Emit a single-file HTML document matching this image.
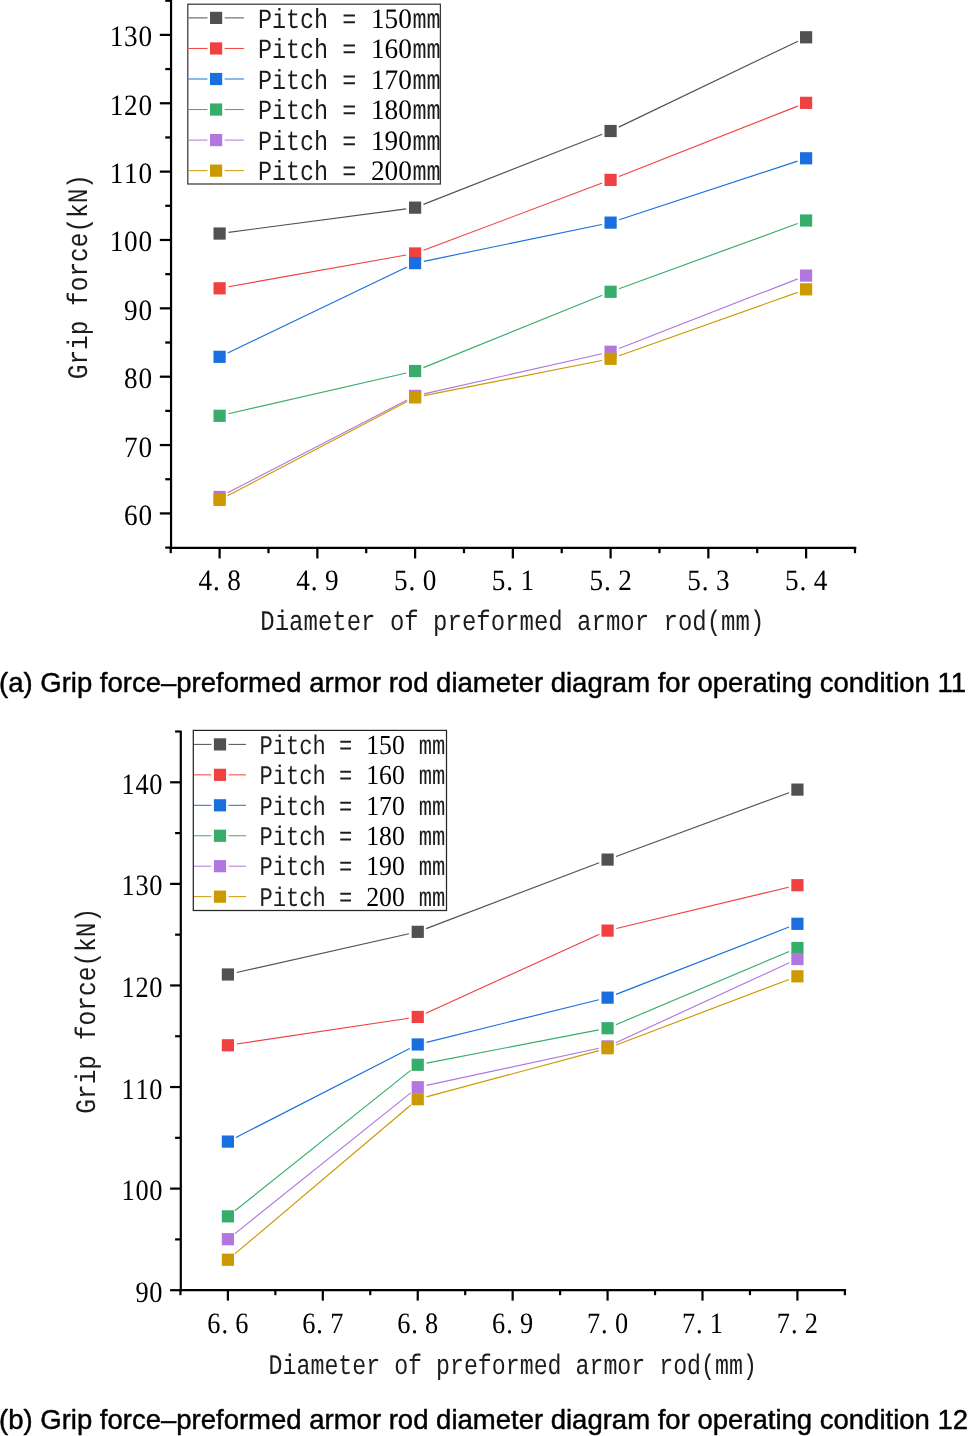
<!DOCTYPE html>
<html lang="en">
<head>
<meta charset="utf-8">
<title>Grip force - preformed armor rod diameter diagrams</title>
<style>
html,body{margin:0;padding:0;background:#fff;}
body{width:969px;height:1436px;overflow:hidden;}
svg{display:block;}
.s{font-family:"Liberation Serif","Noto Serif CJK SC",serif;fill:#000;text-rendering:geometricPrecision;}
.m{font-family:"Liberation Mono","Noto Sans CJK SC",monospace;fill:#1c1c1c;text-rendering:geometricPrecision;}
.c{font-family:"Liberation Sans","Noto Sans CJK SC",sans-serif;fill:#000;}
</style>
</head>
<body>
<svg width="969" height="1436" viewBox="0 0 969 1436">
<rect width="969" height="1436" fill="#fff"/>
<g id="chart-a">
<g>
<line x1="228.52" y1="232.37" x2="406.18" y2="208.83" stroke="#515151" stroke-width="1.15"/>
<line x1="423.48" y1="204.36" x2="602.22" y2="134.30" stroke="#515151" stroke-width="1.15"/>
<line x1="618.72" y1="127.12" x2="797.98" y2="41.18" stroke="#515151" stroke-width="1.15"/>
<rect x="213.50" y="227.45" width="12.20" height="12.20" fill="#515151"/>
<rect x="409.00" y="201.55" width="12.20" height="12.20" fill="#515151"/>
<rect x="604.50" y="124.91" width="12.20" height="12.20" fill="#515151"/>
<rect x="800.00" y="31.19" width="12.20" height="12.20" fill="#515151"/>
</g>
<g>
<line x1="228.46" y1="286.73" x2="406.24" y2="255.03" stroke="#F14040" stroke-width="1.15"/>
<line x1="423.52" y1="250.28" x2="602.18" y2="183.06" stroke="#F14040" stroke-width="1.15"/>
<line x1="618.97" y1="176.59" x2="797.73" y2="106.15" stroke="#F14040" stroke-width="1.15"/>
<rect x="213.50" y="282.21" width="12.20" height="12.20" fill="#F14040"/>
<rect x="409.00" y="247.35" width="12.20" height="12.20" fill="#F14040"/>
<rect x="604.50" y="173.79" width="12.20" height="12.20" fill="#F14040"/>
<rect x="800.00" y="96.75" width="12.20" height="12.20" fill="#F14040"/>
</g>
<g>
<line x1="227.72" y1="352.92" x2="406.98" y2="267.04" stroke="#1A6FDF" stroke-width="1.15"/>
<line x1="423.91" y1="261.33" x2="601.79" y2="224.44" stroke="#1A6FDF" stroke-width="1.15"/>
<line x1="619.15" y1="219.80" x2="797.55" y2="161.10" stroke="#1A6FDF" stroke-width="1.15"/>
<rect x="213.50" y="350.71" width="12.20" height="12.20" fill="#1A6FDF"/>
<rect x="409.00" y="257.05" width="12.20" height="12.20" fill="#1A6FDF"/>
<rect x="604.50" y="216.52" width="12.20" height="12.20" fill="#1A6FDF"/>
<rect x="800.00" y="152.19" width="12.20" height="12.20" fill="#1A6FDF"/>
</g>
<g>
<line x1="228.37" y1="413.79" x2="406.33" y2="373.04" stroke="#37AD6B" stroke-width="1.15"/>
<line x1="423.44" y1="367.65" x2="602.26" y2="295.18" stroke="#37AD6B" stroke-width="1.15"/>
<line x1="619.06" y1="288.71" x2="797.64" y2="223.58" stroke="#37AD6B" stroke-width="1.15"/>
<rect x="213.50" y="409.70" width="12.20" height="12.20" fill="#37AD6B"/>
<rect x="409.00" y="364.93" width="12.20" height="12.20" fill="#37AD6B"/>
<rect x="604.50" y="285.70" width="12.20" height="12.20" fill="#37AD6B"/>
<rect x="800.00" y="214.40" width="12.20" height="12.20" fill="#37AD6B"/>
</g>
<g>
<line x1="227.60" y1="492.81" x2="407.10" y2="400.04" stroke="#B177DE" stroke-width="1.15"/>
<line x1="423.88" y1="393.93" x2="601.82" y2="353.73" stroke="#B177DE" stroke-width="1.15"/>
<line x1="618.99" y1="348.48" x2="797.71" y2="278.86" stroke="#B177DE" stroke-width="1.15"/>
<rect x="213.50" y="490.85" width="12.20" height="12.20" fill="#B177DE"/>
<rect x="409.00" y="389.81" width="12.20" height="12.20" fill="#B177DE"/>
<rect x="604.50" y="345.65" width="12.20" height="12.20" fill="#B177DE"/>
<rect x="800.00" y="269.50" width="12.20" height="12.20" fill="#B177DE"/>
</g>
<g>
<line x1="227.57" y1="495.77" x2="407.13" y2="401.59" stroke="#CC9900" stroke-width="1.15"/>
<line x1="423.93" y1="395.67" x2="601.77" y2="360.53" stroke="#CC9900" stroke-width="1.15"/>
<line x1="619.08" y1="355.78" x2="797.62" y2="292.35" stroke="#CC9900" stroke-width="1.15"/>
<rect x="213.50" y="493.85" width="12.20" height="12.20" fill="#CC9900"/>
<rect x="409.00" y="391.31" width="12.20" height="12.20" fill="#CC9900"/>
<rect x="604.50" y="352.69" width="12.20" height="12.20" fill="#CC9900"/>
<rect x="800.00" y="283.24" width="12.20" height="12.20" fill="#CC9900"/>
</g>
<line x1="171.05" y1="-2.00" x2="171.05" y2="548.90" stroke="#000" stroke-width="2.20"/>
<line x1="169.95" y1="547.80" x2="856.30" y2="547.80" stroke="#000" stroke-width="2.20"/>
<line x1="159.85" y1="513.42" x2="171.05" y2="513.42" stroke="#000" stroke-width="2.25"/>
<line x1="159.85" y1="445.06" x2="171.05" y2="445.06" stroke="#000" stroke-width="2.25"/>
<line x1="159.85" y1="376.70" x2="171.05" y2="376.70" stroke="#000" stroke-width="2.25"/>
<line x1="159.85" y1="308.34" x2="171.05" y2="308.34" stroke="#000" stroke-width="2.25"/>
<line x1="159.85" y1="239.98" x2="171.05" y2="239.98" stroke="#000" stroke-width="2.25"/>
<line x1="159.85" y1="171.62" x2="171.05" y2="171.62" stroke="#000" stroke-width="2.25"/>
<line x1="159.85" y1="103.26" x2="171.05" y2="103.26" stroke="#000" stroke-width="2.25"/>
<line x1="159.85" y1="34.90" x2="171.05" y2="34.90" stroke="#000" stroke-width="2.25"/>
<line x1="165.25" y1="547.60" x2="171.05" y2="547.60" stroke="#000" stroke-width="2.25"/>
<line x1="165.25" y1="479.24" x2="171.05" y2="479.24" stroke="#000" stroke-width="2.25"/>
<line x1="165.25" y1="410.88" x2="171.05" y2="410.88" stroke="#000" stroke-width="2.25"/>
<line x1="165.25" y1="342.52" x2="171.05" y2="342.52" stroke="#000" stroke-width="2.25"/>
<line x1="165.25" y1="274.16" x2="171.05" y2="274.16" stroke="#000" stroke-width="2.25"/>
<line x1="165.25" y1="205.80" x2="171.05" y2="205.80" stroke="#000" stroke-width="2.25"/>
<line x1="165.25" y1="137.44" x2="171.05" y2="137.44" stroke="#000" stroke-width="2.25"/>
<line x1="165.25" y1="69.08" x2="171.05" y2="69.08" stroke="#000" stroke-width="2.25"/>
<line x1="165.25" y1="0.72" x2="171.05" y2="0.72" stroke="#000" stroke-width="2.25"/>
<line x1="219.60" y1="547.80" x2="219.60" y2="558.40" stroke="#000" stroke-width="2.25"/>
<line x1="317.35" y1="547.80" x2="317.35" y2="558.40" stroke="#000" stroke-width="2.25"/>
<line x1="415.10" y1="547.80" x2="415.10" y2="558.40" stroke="#000" stroke-width="2.25"/>
<line x1="512.85" y1="547.80" x2="512.85" y2="558.40" stroke="#000" stroke-width="2.25"/>
<line x1="610.60" y1="547.80" x2="610.60" y2="558.40" stroke="#000" stroke-width="2.25"/>
<line x1="708.35" y1="547.80" x2="708.35" y2="558.40" stroke="#000" stroke-width="2.25"/>
<line x1="806.10" y1="547.80" x2="806.10" y2="558.40" stroke="#000" stroke-width="2.25"/>
<line x1="170.73" y1="547.80" x2="170.73" y2="553.20" stroke="#000" stroke-width="2.25"/>
<line x1="268.47" y1="547.80" x2="268.47" y2="553.20" stroke="#000" stroke-width="2.25"/>
<line x1="366.23" y1="547.80" x2="366.23" y2="553.20" stroke="#000" stroke-width="2.25"/>
<line x1="463.98" y1="547.80" x2="463.98" y2="553.20" stroke="#000" stroke-width="2.25"/>
<line x1="561.73" y1="547.80" x2="561.73" y2="553.20" stroke="#000" stroke-width="2.25"/>
<line x1="659.48" y1="547.80" x2="659.48" y2="553.20" stroke="#000" stroke-width="2.25"/>
<line x1="757.22" y1="547.80" x2="757.22" y2="553.20" stroke="#000" stroke-width="2.25"/>
<line x1="854.98" y1="547.80" x2="854.98" y2="553.20" stroke="#000" stroke-width="2.25"/>
<text class="s" font-size="29.60" text-anchor="middle" transform="scale(0.9200 1)" x="142.28 157.93" y="524.92">60</text>
<text class="s" font-size="29.60" text-anchor="middle" transform="scale(0.9200 1)" x="142.28 157.93" y="456.56">70</text>
<text class="s" font-size="29.60" text-anchor="middle" transform="scale(0.9200 1)" x="142.28 157.93" y="388.20">80</text>
<text class="s" font-size="29.60" text-anchor="middle" transform="scale(0.9200 1)" x="142.28 157.93" y="319.84">90</text>
<text class="s" font-size="29.60" text-anchor="middle" transform="scale(0.9200 1)" x="126.63 142.28 157.93" y="251.48">100</text>
<text class="s" font-size="29.60" text-anchor="middle" transform="scale(0.9200 1)" x="126.63 142.28 157.93" y="183.12">110</text>
<text class="s" font-size="29.60" text-anchor="middle" transform="scale(0.9200 1)" x="126.63 142.28 157.93" y="114.76">120</text>
<text class="s" font-size="29.60" text-anchor="middle" transform="scale(0.9200 1)" x="126.63 142.28 157.93" y="46.40">130</text>
<text class="s" font-size="29.60" text-anchor="middle" transform="scale(0.9200 1)" x="223.04 235.10 254.35" y="590.20">4.8</text>
<text class="s" font-size="29.60" text-anchor="middle" transform="scale(0.9200 1)" x="329.29 341.35 360.60" y="590.20">4.9</text>
<text class="s" font-size="29.60" text-anchor="middle" transform="scale(0.9200 1)" x="435.54 447.60 466.85" y="590.20">5.0</text>
<text class="s" font-size="29.60" text-anchor="middle" transform="scale(0.9200 1)" x="541.79 553.85 573.10" y="590.20">5.1</text>
<text class="s" font-size="29.60" text-anchor="middle" transform="scale(0.9200 1)" x="648.04 660.10 679.35" y="590.20">5.2</text>
<text class="s" font-size="29.60" text-anchor="middle" transform="scale(0.9200 1)" x="754.29 766.35 785.60" y="590.20">5.3</text>
<text class="s" font-size="29.60" text-anchor="middle" transform="scale(0.9200 1)" x="860.54 872.60 891.85" y="590.20">5.4</text>
<text class="m" font-size="28.30" x="260.30" y="629.70" textLength="504.00" lengthAdjust="spacingAndGlyphs">Diameter of preformed armor rod(mm)</text>
<text class="m" font-size="28.30" x="87.10" y="379.20" textLength="205.24" lengthAdjust="spacingAndGlyphs" transform="rotate(-90 87.10 379.20)">Grip force(kN)</text>
<rect x="187.80" y="4.20" width="252.60" height="179.80" fill="#fff" stroke="#3a3a3a" stroke-width="1.25"/>
<line x1="188.40" y1="17.90" x2="207.50" y2="17.90" stroke="#515151" stroke-width="1.00"/>
<line x1="224.70" y1="17.90" x2="243.90" y2="17.90" stroke="#515151" stroke-width="1.00"/>
<rect x="210.00" y="11.80" width="12.20" height="12.20" fill="#515151"/>
<text font-size="27.70" y="27.60"><tspan class="m" x="257.90" textLength="98.35" lengthAdjust="spacingAndGlyphs">Pitch =</tspan> <tspan class="s" font-size="28.20" x="370.90" textLength="40.95" lengthAdjust="spacingAndGlyphs">150</tspan><tspan class="m" x="412.45" textLength="28.10" lengthAdjust="spacingAndGlyphs">mm</tspan></text>
<line x1="188.40" y1="48.45" x2="207.50" y2="48.45" stroke="#F14040" stroke-width="1.00"/>
<line x1="224.70" y1="48.45" x2="243.90" y2="48.45" stroke="#F14040" stroke-width="1.00"/>
<rect x="210.00" y="42.35" width="12.20" height="12.20" fill="#F14040"/>
<text font-size="27.70" y="58.10"><tspan class="m" x="257.90" textLength="98.35" lengthAdjust="spacingAndGlyphs">Pitch =</tspan> <tspan class="s" font-size="28.20" x="370.90" textLength="40.95" lengthAdjust="spacingAndGlyphs">160</tspan><tspan class="m" x="412.45" textLength="28.10" lengthAdjust="spacingAndGlyphs">mm</tspan></text>
<line x1="188.40" y1="79.00" x2="207.50" y2="79.00" stroke="#1A6FDF" stroke-width="1.00"/>
<line x1="224.70" y1="79.00" x2="243.90" y2="79.00" stroke="#1A6FDF" stroke-width="1.00"/>
<rect x="210.00" y="72.90" width="12.20" height="12.20" fill="#1A6FDF"/>
<text font-size="27.70" y="88.60"><tspan class="m" x="257.90" textLength="98.35" lengthAdjust="spacingAndGlyphs">Pitch =</tspan> <tspan class="s" font-size="28.20" x="370.90" textLength="40.95" lengthAdjust="spacingAndGlyphs">170</tspan><tspan class="m" x="412.45" textLength="28.10" lengthAdjust="spacingAndGlyphs">mm</tspan></text>
<line x1="188.40" y1="109.55" x2="207.50" y2="109.55" stroke="#37AD6B" stroke-width="1.00"/>
<line x1="224.70" y1="109.55" x2="243.90" y2="109.55" stroke="#37AD6B" stroke-width="1.00"/>
<rect x="210.00" y="103.45" width="12.20" height="12.20" fill="#37AD6B"/>
<text font-size="27.70" y="119.10"><tspan class="m" x="257.90" textLength="98.35" lengthAdjust="spacingAndGlyphs">Pitch =</tspan> <tspan class="s" font-size="28.20" x="370.90" textLength="40.95" lengthAdjust="spacingAndGlyphs">180</tspan><tspan class="m" x="412.45" textLength="28.10" lengthAdjust="spacingAndGlyphs">mm</tspan></text>
<line x1="188.40" y1="140.10" x2="207.50" y2="140.10" stroke="#B177DE" stroke-width="1.00"/>
<line x1="224.70" y1="140.10" x2="243.90" y2="140.10" stroke="#B177DE" stroke-width="1.00"/>
<rect x="210.00" y="134.00" width="12.20" height="12.20" fill="#B177DE"/>
<text font-size="27.70" y="149.60"><tspan class="m" x="257.90" textLength="98.35" lengthAdjust="spacingAndGlyphs">Pitch =</tspan> <tspan class="s" font-size="28.20" x="370.90" textLength="40.95" lengthAdjust="spacingAndGlyphs">190</tspan><tspan class="m" x="412.45" textLength="28.10" lengthAdjust="spacingAndGlyphs">mm</tspan></text>
<line x1="188.40" y1="170.65" x2="207.50" y2="170.65" stroke="#CC9900" stroke-width="1.00"/>
<line x1="224.70" y1="170.65" x2="243.90" y2="170.65" stroke="#CC9900" stroke-width="1.00"/>
<rect x="210.00" y="164.55" width="12.20" height="12.20" fill="#CC9900"/>
<text font-size="27.70" y="180.10"><tspan class="m" x="257.90" textLength="98.35" lengthAdjust="spacingAndGlyphs">Pitch =</tspan> <tspan class="s" font-size="28.20" x="370.90" textLength="40.95" lengthAdjust="spacingAndGlyphs">200</tspan><tspan class="m" x="412.45" textLength="28.10" lengthAdjust="spacingAndGlyphs">mm</tspan></text>
</g>
<g id="chart-b">
<g>
<line x1="236.68" y1="972.52" x2="408.96" y2="933.80" stroke="#515151" stroke-width="1.15"/>
<line x1="426.15" y1="928.63" x2="599.17" y2="862.80" stroke="#515151" stroke-width="1.15"/>
<line x1="616.02" y1="856.49" x2="788.98" y2="792.73" stroke="#515151" stroke-width="1.15"/>
<rect x="221.80" y="968.39" width="12.20" height="12.20" fill="#515151"/>
<rect x="411.64" y="925.73" width="12.20" height="12.20" fill="#515151"/>
<rect x="601.48" y="853.50" width="12.20" height="12.20" fill="#515151"/>
<rect x="791.32" y="783.51" width="12.20" height="12.20" fill="#515151"/>
</g>
<g>
<line x1="236.80" y1="1043.96" x2="408.84" y2="1018.28" stroke="#F14040" stroke-width="1.15"/>
<line x1="425.93" y1="1013.22" x2="599.39" y2="934.33" stroke="#F14040" stroke-width="1.15"/>
<line x1="616.33" y1="928.51" x2="788.67" y2="887.29" stroke="#F14040" stroke-width="1.15"/>
<rect x="221.80" y="1039.19" width="12.20" height="12.20" fill="#F14040"/>
<rect x="411.64" y="1010.85" width="12.20" height="12.20" fill="#F14040"/>
<rect x="601.48" y="924.51" width="12.20" height="12.20" fill="#F14040"/>
<rect x="791.32" y="879.10" width="12.20" height="12.20" fill="#F14040"/>
</g>
<g>
<line x1="235.91" y1="1137.49" x2="409.73" y2="1048.58" stroke="#1A6FDF" stroke-width="1.15"/>
<line x1="426.48" y1="1042.32" x2="598.84" y2="999.81" stroke="#1A6FDF" stroke-width="1.15"/>
<line x1="615.97" y1="994.39" x2="789.03" y2="927.06" stroke="#1A6FDF" stroke-width="1.15"/>
<rect x="221.80" y="1135.49" width="12.20" height="12.20" fill="#1A6FDF"/>
<rect x="411.64" y="1038.38" width="12.20" height="12.20" fill="#1A6FDF"/>
<rect x="601.48" y="991.55" width="12.20" height="12.20" fill="#1A6FDF"/>
<rect x="791.32" y="917.70" width="12.20" height="12.20" fill="#1A6FDF"/>
</g>
<g>
<line x1="234.93" y1="1210.74" x2="410.71" y2="1070.41" stroke="#37AD6B" stroke-width="1.15"/>
<line x1="426.58" y1="1063.09" x2="598.74" y2="1029.93" stroke="#37AD6B" stroke-width="1.15"/>
<line x1="615.87" y1="1024.72" x2="789.13" y2="951.48" stroke="#37AD6B" stroke-width="1.15"/>
<rect x="221.80" y="1210.25" width="12.20" height="12.20" fill="#37AD6B"/>
<rect x="411.64" y="1058.69" width="12.20" height="12.20" fill="#37AD6B"/>
<rect x="601.48" y="1022.13" width="12.20" height="12.20" fill="#37AD6B"/>
<rect x="791.32" y="941.88" width="12.20" height="12.20" fill="#37AD6B"/>
</g>
<g>
<line x1="234.93" y1="1233.58" x2="410.71" y2="1092.87" stroke="#B177DE" stroke-width="1.15"/>
<line x1="426.54" y1="1085.35" x2="598.78" y2="1048.30" stroke="#B177DE" stroke-width="1.15"/>
<line x1="615.76" y1="1042.65" x2="789.24" y2="962.81" stroke="#B177DE" stroke-width="1.15"/>
<rect x="221.80" y="1233.11" width="12.20" height="12.20" fill="#B177DE"/>
<rect x="411.64" y="1081.14" width="12.20" height="12.20" fill="#B177DE"/>
<rect x="601.48" y="1040.31" width="12.20" height="12.20" fill="#B177DE"/>
<rect x="791.32" y="952.95" width="12.20" height="12.20" fill="#B177DE"/>
</g>
<g>
<line x1="234.77" y1="1253.92" x2="410.87" y2="1105.04" stroke="#CC9900" stroke-width="1.15"/>
<line x1="426.43" y1="1096.89" x2="598.89" y2="1050.57" stroke="#CC9900" stroke-width="1.15"/>
<line x1="616.00" y1="1045.05" x2="789.00" y2="979.51" stroke="#CC9900" stroke-width="1.15"/>
<rect x="221.80" y="1253.63" width="12.20" height="12.20" fill="#CC9900"/>
<rect x="411.64" y="1093.13" width="12.20" height="12.20" fill="#CC9900"/>
<rect x="601.48" y="1042.14" width="12.20" height="12.20" fill="#CC9900"/>
<rect x="791.32" y="970.22" width="12.20" height="12.20" fill="#CC9900"/>
</g>
<line x1="180.80" y1="730.80" x2="180.80" y2="1291.30" stroke="#000" stroke-width="2.20"/>
<line x1="179.70" y1="1290.20" x2="846.10" y2="1290.20" stroke="#000" stroke-width="2.20"/>
<line x1="170.10" y1="1290.20" x2="180.80" y2="1290.20" stroke="#000" stroke-width="2.20"/>
<line x1="170.10" y1="1188.62" x2="180.80" y2="1188.62" stroke="#000" stroke-width="2.20"/>
<line x1="170.10" y1="1087.04" x2="180.80" y2="1087.04" stroke="#000" stroke-width="2.20"/>
<line x1="170.10" y1="985.46" x2="180.80" y2="985.46" stroke="#000" stroke-width="2.20"/>
<line x1="170.10" y1="883.88" x2="180.80" y2="883.88" stroke="#000" stroke-width="2.20"/>
<line x1="170.10" y1="782.30" x2="180.80" y2="782.30" stroke="#000" stroke-width="2.20"/>
<line x1="175.10" y1="1239.41" x2="180.80" y2="1239.41" stroke="#000" stroke-width="2.20"/>
<line x1="175.10" y1="1137.83" x2="180.80" y2="1137.83" stroke="#000" stroke-width="2.20"/>
<line x1="175.10" y1="1036.25" x2="180.80" y2="1036.25" stroke="#000" stroke-width="2.20"/>
<line x1="175.10" y1="934.67" x2="180.80" y2="934.67" stroke="#000" stroke-width="2.20"/>
<line x1="175.10" y1="833.09" x2="180.80" y2="833.09" stroke="#000" stroke-width="2.20"/>
<line x1="175.10" y1="731.51" x2="180.80" y2="731.51" stroke="#000" stroke-width="2.20"/>
<line x1="227.90" y1="1290.20" x2="227.90" y2="1300.60" stroke="#000" stroke-width="2.20"/>
<line x1="322.82" y1="1290.20" x2="322.82" y2="1300.60" stroke="#000" stroke-width="2.20"/>
<line x1="417.74" y1="1290.20" x2="417.74" y2="1300.60" stroke="#000" stroke-width="2.20"/>
<line x1="512.66" y1="1290.20" x2="512.66" y2="1300.60" stroke="#000" stroke-width="2.20"/>
<line x1="607.58" y1="1290.20" x2="607.58" y2="1300.60" stroke="#000" stroke-width="2.20"/>
<line x1="702.50" y1="1290.20" x2="702.50" y2="1300.60" stroke="#000" stroke-width="2.20"/>
<line x1="797.42" y1="1290.20" x2="797.42" y2="1300.60" stroke="#000" stroke-width="2.20"/>
<line x1="180.44" y1="1290.20" x2="180.44" y2="1295.20" stroke="#000" stroke-width="2.20"/>
<line x1="275.36" y1="1290.20" x2="275.36" y2="1295.20" stroke="#000" stroke-width="2.20"/>
<line x1="370.28" y1="1290.20" x2="370.28" y2="1295.20" stroke="#000" stroke-width="2.20"/>
<line x1="465.20" y1="1290.20" x2="465.20" y2="1295.20" stroke="#000" stroke-width="2.20"/>
<line x1="560.12" y1="1290.20" x2="560.12" y2="1295.20" stroke="#000" stroke-width="2.20"/>
<line x1="655.04" y1="1290.20" x2="655.04" y2="1295.20" stroke="#000" stroke-width="2.20"/>
<line x1="749.96" y1="1290.20" x2="749.96" y2="1295.20" stroke="#000" stroke-width="2.20"/>
<line x1="844.88" y1="1290.20" x2="844.88" y2="1295.20" stroke="#000" stroke-width="2.20"/>
<text class="s" font-size="29.60" text-anchor="middle" transform="scale(0.8910 1)" x="159.34 175.00" y="1301.70">90</text>
<text class="s" font-size="29.60" text-anchor="middle" transform="scale(0.8910 1)" x="143.69 159.34 175.00" y="1200.12">100</text>
<text class="s" font-size="29.60" text-anchor="middle" transform="scale(0.8910 1)" x="143.69 159.34 175.00" y="1098.54">110</text>
<text class="s" font-size="29.60" text-anchor="middle" transform="scale(0.8910 1)" x="143.69 159.34 175.00" y="996.96">120</text>
<text class="s" font-size="29.60" text-anchor="middle" transform="scale(0.8910 1)" x="143.69 159.34 175.00" y="895.38">130</text>
<text class="s" font-size="29.60" text-anchor="middle" transform="scale(0.8910 1)" x="143.69 159.34 175.00" y="793.80">140</text>
<text class="s" font-size="29.60" text-anchor="middle" transform="scale(0.8910 1)" x="240.12 252.18 271.44" y="1333.00">6.6</text>
<text class="s" font-size="29.60" text-anchor="middle" transform="scale(0.8910 1)" x="346.66 358.71 377.97" y="1333.00">6.7</text>
<text class="s" font-size="29.60" text-anchor="middle" transform="scale(0.8910 1)" x="453.19 465.24 484.50" y="1333.00">6.8</text>
<text class="s" font-size="29.60" text-anchor="middle" transform="scale(0.8910 1)" x="559.72 571.77 591.03" y="1333.00">6.9</text>
<text class="s" font-size="29.60" text-anchor="middle" transform="scale(0.8910 1)" x="666.25 678.31 697.56" y="1333.00">7.0</text>
<text class="s" font-size="29.60" text-anchor="middle" transform="scale(0.8910 1)" x="772.78 784.84 804.10" y="1333.00">7.1</text>
<text class="s" font-size="29.60" text-anchor="middle" transform="scale(0.8910 1)" x="879.32 891.37 910.63" y="1333.00">7.2</text>
<text class="m" font-size="28.30" x="268.60" y="1373.50" textLength="488.25" lengthAdjust="spacingAndGlyphs">Diameter of preformed armor rod(mm)</text>
<text class="m" font-size="28.30" x="95.10" y="1113.80" textLength="206.08" lengthAdjust="spacingAndGlyphs" transform="rotate(-90 95.10 1113.80)">Grip force(kN)</text>
<rect x="193.30" y="730.40" width="253.20" height="180.10" fill="#fff" stroke="#262626" stroke-width="1.25"/>
<line x1="194.00" y1="744.40" x2="211.40" y2="744.40" stroke="#515151" stroke-width="1.00"/>
<line x1="228.60" y1="744.40" x2="246.00" y2="744.40" stroke="#515151" stroke-width="1.00"/>
<rect x="213.90" y="738.30" width="12.20" height="12.20" fill="#515151"/>
<text font-size="27.00" y="753.80"><tspan class="m" x="259.50" textLength="92.89" lengthAdjust="spacingAndGlyphs">Pitch =</tspan> <tspan class="s" font-size="27.50" x="366.26" textLength="38.61" lengthAdjust="spacingAndGlyphs">150</tspan> <tspan class="m" x="418.74" textLength="26.54" lengthAdjust="spacingAndGlyphs">mm</tspan></text>
<line x1="194.00" y1="774.85" x2="211.40" y2="774.85" stroke="#F14040" stroke-width="1.00"/>
<line x1="228.60" y1="774.85" x2="246.00" y2="774.85" stroke="#F14040" stroke-width="1.00"/>
<rect x="213.90" y="768.75" width="12.20" height="12.20" fill="#F14040"/>
<text font-size="27.00" y="784.20"><tspan class="m" x="259.50" textLength="92.89" lengthAdjust="spacingAndGlyphs">Pitch =</tspan> <tspan class="s" font-size="27.50" x="366.26" textLength="38.61" lengthAdjust="spacingAndGlyphs">160</tspan> <tspan class="m" x="418.74" textLength="26.54" lengthAdjust="spacingAndGlyphs">mm</tspan></text>
<line x1="194.00" y1="805.30" x2="211.40" y2="805.30" stroke="#1A6FDF" stroke-width="1.00"/>
<line x1="228.60" y1="805.30" x2="246.00" y2="805.30" stroke="#1A6FDF" stroke-width="1.00"/>
<rect x="213.90" y="799.20" width="12.20" height="12.20" fill="#1A6FDF"/>
<text font-size="27.00" y="814.60"><tspan class="m" x="259.50" textLength="92.89" lengthAdjust="spacingAndGlyphs">Pitch =</tspan> <tspan class="s" font-size="27.50" x="366.26" textLength="38.61" lengthAdjust="spacingAndGlyphs">170</tspan> <tspan class="m" x="418.74" textLength="26.54" lengthAdjust="spacingAndGlyphs">mm</tspan></text>
<line x1="194.00" y1="835.75" x2="211.40" y2="835.75" stroke="#37AD6B" stroke-width="1.00"/>
<line x1="228.60" y1="835.75" x2="246.00" y2="835.75" stroke="#37AD6B" stroke-width="1.00"/>
<rect x="213.90" y="829.65" width="12.20" height="12.20" fill="#37AD6B"/>
<text font-size="27.00" y="845.00"><tspan class="m" x="259.50" textLength="92.89" lengthAdjust="spacingAndGlyphs">Pitch =</tspan> <tspan class="s" font-size="27.50" x="366.26" textLength="38.61" lengthAdjust="spacingAndGlyphs">180</tspan> <tspan class="m" x="418.74" textLength="26.54" lengthAdjust="spacingAndGlyphs">mm</tspan></text>
<line x1="194.00" y1="866.20" x2="211.40" y2="866.20" stroke="#B177DE" stroke-width="1.00"/>
<line x1="228.60" y1="866.20" x2="246.00" y2="866.20" stroke="#B177DE" stroke-width="1.00"/>
<rect x="213.90" y="860.10" width="12.20" height="12.20" fill="#B177DE"/>
<text font-size="27.00" y="875.40"><tspan class="m" x="259.50" textLength="92.89" lengthAdjust="spacingAndGlyphs">Pitch =</tspan> <tspan class="s" font-size="27.50" x="366.26" textLength="38.61" lengthAdjust="spacingAndGlyphs">190</tspan> <tspan class="m" x="418.74" textLength="26.54" lengthAdjust="spacingAndGlyphs">mm</tspan></text>
<line x1="194.00" y1="896.65" x2="211.40" y2="896.65" stroke="#CC9900" stroke-width="1.00"/>
<line x1="228.60" y1="896.65" x2="246.00" y2="896.65" stroke="#CC9900" stroke-width="1.00"/>
<rect x="213.90" y="890.55" width="12.20" height="12.20" fill="#CC9900"/>
<text font-size="27.00" y="905.80"><tspan class="m" x="259.50" textLength="92.89" lengthAdjust="spacingAndGlyphs">Pitch =</tspan> <tspan class="s" font-size="27.50" x="366.26" textLength="38.61" lengthAdjust="spacingAndGlyphs">200</tspan> <tspan class="m" x="418.74" textLength="26.54" lengthAdjust="spacingAndGlyphs">mm</tspan></text>
</g>
<text class="c" x="-1.00" y="692.00" font-size="27.50" stroke="#000" stroke-width="0.45" stroke-linejoin="round">(a) Grip force–preformed armor rod diameter diagram for operating condition 11</text>
<text class="c" x="-1.00" y="1428.60" font-size="27.50" stroke="#000" stroke-width="0.45" stroke-linejoin="round">(b) Grip force–preformed armor rod diameter diagram for operating condition 12</text>
</svg>
</body>
</html>
